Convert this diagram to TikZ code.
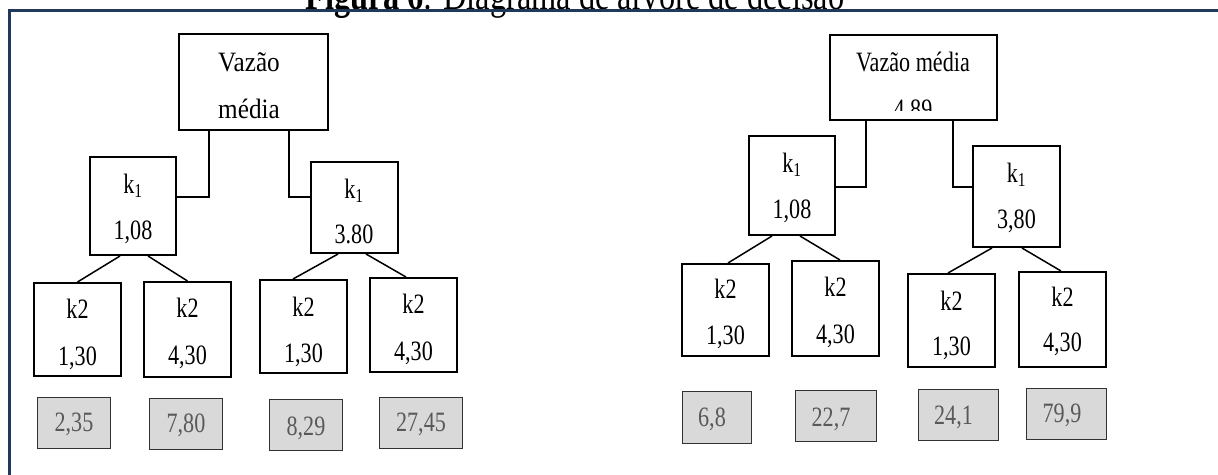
\documentclass[tikz,border=0pt]{standalone}
\usepackage{fontspec}
\setmainfont{Liberation Serif}
\newfontfamily\boxfont{Liberation Serif}[FakeStretch=0.79]
\newfontfamily\rootfont{Liberation Serif}[FakeStretch=0.9]
\definecolor{frameblue}{RGB}{31,56,92}
\definecolor{cellgray}{RGB}{217,217,217}
\definecolor{valgray}{RGB}{89,89,89}
\definecolor{valedge}{RGB}{50,50,50}
\tikzset{
  dbox/.style={draw=black, line width=2pt, fill=white, inner sep=0pt},
  vbox/.style={draw=valedge, line width=1.3pt, fill=cellgray, inner sep=0pt},
  lbl/.style={anchor=base, inner sep=0pt, font=\boxfont\fontsize{28}{34}\selectfont},
  rlbl/.style={anchor=base, inner sep=0pt, font=\rootfont\fontsize{28}{34}\selectfont},
  vlbl/.style={lbl, text=valgray},
  link/.style={line width=1.5pt},
}
\begin{document}
\begin{tikzpicture}[x=1pt,y=-1pt]
\useasboundingbox (0,0) rectangle (1218,474);
\clip (0,0) rectangle (1218,474);

% caption (cut by the top of the page)
\node[anchor=base, inner sep=0pt, font=\boxfont\fontsize{41}{41}\selectfont] (title) at (575,9)
  {\textbf{Figura 6}: Diagrama de árvore de decisão};

% frame
\draw[frameblue, line width=3pt] (9,480) -- (9,10) -- (1226,10);

% ---------------- left tree ----------------
\node[dbox, minimum width=149pt, minimum height=96pt] (RL) at (253.5,82) {};
\node[dbox, minimum width=86pt, minimum height=98pt] (K1L) at (133,206) {};
\node[dbox, minimum width=87pt, minimum height=91pt] (K1R) at (354.5,207.5) {};
\node[dbox, minimum width=87pt, minimum height=93pt] (A1) at (77.5,329.5) {};
\node[dbox, minimum width=87pt, minimum height=95pt] (A2) at (187.5,329.5) {};
\node[dbox, minimum width=87pt, minimum height=93pt] (A3) at (303.5,326.5) {};
\node[dbox, minimum width=87pt, minimum height=94pt] (A4) at (413.5,325) {};
\node[vbox, minimum width=73pt, minimum height=51pt] (G1) at (74,423) {};
\node[vbox, minimum width=73pt, minimum height=51pt] (G2) at (186,424) {};
\node[vbox, minimum width=73pt, minimum height=51pt] (G3) at (306,425) {};
\node[vbox, minimum width=83pt, minimum height=51pt] (G4) at (421,423) {};

\draw[link] ([xshift=31pt]RL.south west) |- ([yshift=9pt]K1L.east);
\draw[link] ([xshift=-40pt]RL.south east) |- ([yshift=10.5pt]K1R.west);
\draw[link] ([xshift=-13pt]K1L.south) -- (A1.north);
\draw[link] ([xshift=15pt]K1L.south) -- (A2.north);
\draw[link] ([xshift=-16.5pt]K1R.south) -- ([xshift=-10.5pt]A3.north);
\draw[link] ([xshift=11.5pt]K1R.south) -- ([xshift=-7.5pt]A4.north);

\node[rlbl] (RLa) at (249,71.7) {Vazão};
\node[rlbl] (RLb) at (249,118.3) {média};
\node[lbl] (K1La) at (133,193) {k\textsubscript{1}};
\node[lbl] (K1Lb) at (133,239) {1,08};
\node[lbl] (K1Ra) at (354,198.3) {k\textsubscript{1}};
\node[lbl] (K1Rb) at (354,243.3) {3.80};
\node[lbl] (A1a) at (77.5,318) {k2};
\node[lbl] (A1b) at (77.5,365) {1,30};
\node[lbl] (A2a) at (187.5,317) {k2};
\node[lbl] (A2b) at (187.5,364) {4,30};
\node[lbl] (A3a) at (303.5,316) {k2};
\node[lbl] (A3b) at (303.5,362) {1,30};
\node[lbl] (A4a) at (413.5,313) {k2};
\node[lbl] (A4b) at (413.5,360) {4,30};
\node[vlbl] (G1a) at (74,431.7) {2,35};
\node[vlbl] (G2a) at (186,432.7) {7,80};
\node[vlbl] (G3a) at (306,435) {8,29};
\node[vlbl] (G4a) at (421,431.7) {27,45};

% ---------------- right tree ----------------
\node[dbox, minimum width=167pt, minimum height=85pt] (RR) at (913.5,77.5) {};
\node[dbox, minimum width=86pt, minimum height=99pt] (K1L2) at (792,185.5) {};
\node[dbox, minimum width=87pt, minimum height=101pt] (K1R2) at (1016.5,196.5) {};
\node[dbox, minimum width=87pt, minimum height=92pt] (B1) at (725.5,310) {};
\node[dbox, minimum width=87pt, minimum height=95pt] (B2) at (835.5,308.5) {};
\node[dbox, minimum width=87pt, minimum height=93pt] (B3) at (951.5,320.5) {};
\node[dbox, minimum width=87pt, minimum height=95pt] (B4) at (1062.5,319.5) {};
\node[vbox, minimum width=69pt, minimum height=52pt] (H1) at (717,417.5) {};
\node[vbox, minimum width=81pt, minimum height=51pt] (H2) at (836,416) {};
\node[vbox, minimum width=80pt, minimum height=51pt] (H3) at (958.5,415) {};
\node[vbox, minimum width=80pt, minimum height=51pt] (H4) at (1066.5,414) {};

\draw[link] ([xshift=37pt]RR.south west) |- ([yshift=-1.5pt]K1L2.east);
\draw[link] ([xshift=-45pt]RR.south east) |- ([yshift=9.5pt]K1R2.west);
\draw[link] ([xshift=-20pt]K1L2.south) -- ([xshift=2.5pt]B1.north);
\draw[link] ([xshift=8pt]K1L2.south) -- ([xshift=4.5pt]B2.north);
\draw[link] ([xshift=-24.5pt]K1R2.south) -- ([xshift=-3.5pt]B3.north);
\draw[link] ([xshift=5.5pt]K1R2.south) -- ([xshift=-1.5pt]B4.north);

\node[lbl] (RRa) at (913,71.7) {Vazão média};
\begin{scope}
  \clip (831,36) rectangle (996,110);
  \node[lbl] (RRb) at (913,118.3) {4,89};
\end{scope}
\node[lbl] (K1L2a) at (792,172.3) {k\textsubscript{1}};
\node[lbl] (K1L2b) at (792,218.3) {1,08};
\node[lbl] (K1R2a) at (1016.5,182.3) {k\textsubscript{1}};
\node[lbl] (K1R2b) at (1016.5,228.3) {3,80};
\node[lbl] (B1a) at (725.5,298.3) {k2};
\node[lbl] (B1b) at (725.5,344) {1,30};
\node[lbl] (B2a) at (835.5,296.7) {k2};
\node[lbl] (B2b) at (835.5,343.3) {4,30};
\node[lbl] (B3a) at (951.5,310) {k2};
\node[lbl] (B3b) at (951.5,355) {1,30};
\node[lbl] (B4a) at (1062.5,306.7) {k2};
\node[lbl] (B4b) at (1062.5,351.7) {4,30};
\node[vlbl] (H1a) at (712,426.7) {6,8};
\node[vlbl] (H2a) at (831,426) {22,7};
\node[vlbl] (H3a) at (953.5,424) {24,1};
\node[vlbl] (H4a) at (1062,422.7) {79,9};
\end{tikzpicture}
\end{document}
